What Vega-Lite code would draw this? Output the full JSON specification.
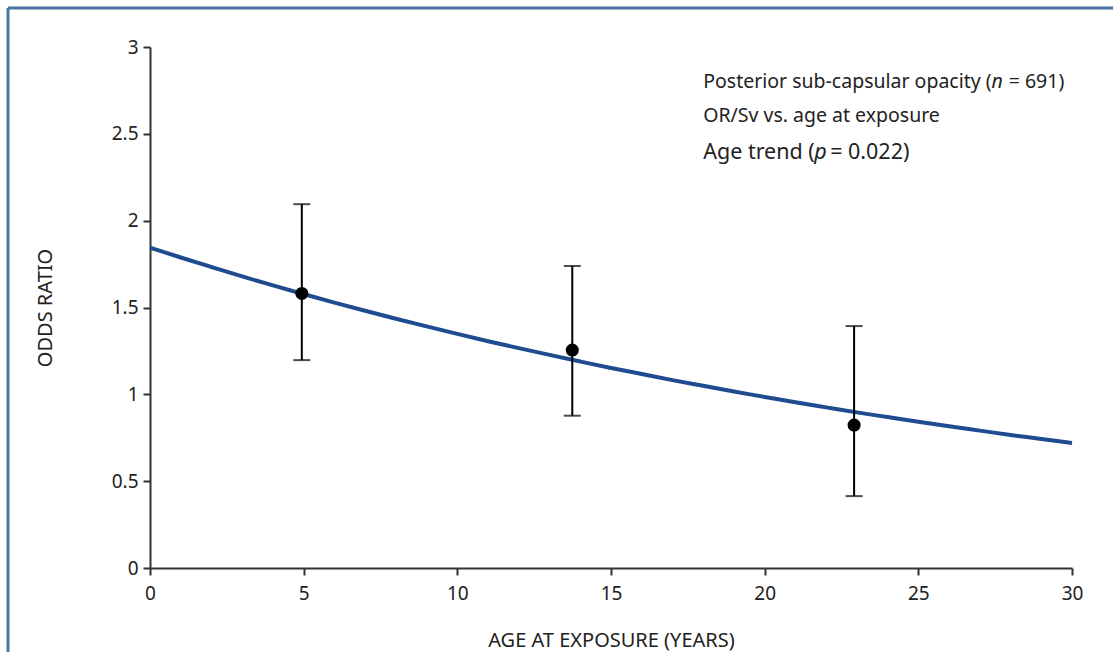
{
  "$schema": "https://vega.github.io/schema/vega-lite/v6.json",
  "autosize": "none",
  "width": 922,
  "height": 521,
  "padding": {"left": 150, "top": 47, "right": 41, "bottom": 84},
  "background": "white",
  "config": {
    "view": {"stroke": null},
    "font": "Noto Sans",
    "axis": {
      "domainColor": "#333333",
      "domainWidth": 2,
      "tickColor": "#333333",
      "tickWidth": 2,
      "tickSize": 7,
      "labelFont": "Noto Sans",
      "labelFontSize": 18,
      "labelColor": "#222222",
      "labelFlush": false,
      "labelOverlap": false,
      "titleFont": "Noto Sans",
      "titleFontSize": 20,
      "titleFontWeight": "normal",
      "titleColor": "#222222",
      "grid": false
    }
  },
  "datasets": {
    "curve": [
      {"age": 0, "or": 1.845}, {"age": 1, "or": 1.788}, {"age": 2, "or": 1.733},
      {"age": 3, "or": 1.679}, {"age": 4, "or": 1.627}, {"age": 5, "or": 1.577},
      {"age": 6, "or": 1.528}, {"age": 7, "or": 1.481}, {"age": 8, "or": 1.435},
      {"age": 9, "or": 1.391}, {"age": 10, "or": 1.348}, {"age": 11, "or": 1.306},
      {"age": 12, "or": 1.266}, {"age": 13, "or": 1.227}, {"age": 14, "or": 1.189},
      {"age": 15, "or": 1.152}, {"age": 16, "or": 1.117}, {"age": 17, "or": 1.082},
      {"age": 18, "or": 1.049}, {"age": 19, "or": 1.016}, {"age": 20, "or": 0.985},
      {"age": 21, "or": 0.954}, {"age": 22, "or": 0.925}, {"age": 23, "or": 0.896},
      {"age": 24, "or": 0.869}, {"age": 25, "or": 0.842}, {"age": 26, "or": 0.816},
      {"age": 27, "or": 0.791}, {"age": 28, "or": 0.766}, {"age": 29, "or": 0.743},
      {"age": 30, "or": 0.720}
    ],
    "points": [
      {"age": 4.94, "or": 1.581, "lo": 1.197, "hi": 2.095},
      {"age": 13.74, "or": 1.255, "lo": 0.877, "hi": 1.739},
      {"age": 22.91, "or": 0.823, "lo": 0.414, "hi": 1.393}
    ],
    "frame": [
      {"x1": -4.62, "x2": -4.62, "y1": -0.6, "y2": 3.224},
      {"x1": -4.62, "x2": 32, "y1": 3.224, "y2": 3.224}
    ],
    "normalText": [
      {"x": 18.0, "y": 2.798, "t": "Posterior sub-capsular opacity ("},
      {"x": 27.94, "y": 2.798, "t": "= 691)"},
      {"x": 18.0, "y": 2.602, "t": "OR/Sv vs. age at exposure"}
    ],
    "italicText": [
      {"x": 27.38, "y": 2.798, "t": "n"}
    ],
    "bigText": [
      {"x": 18.0, "y": 2.389, "t": "Age trend ("},
      {"x": 22.13, "y": 2.389, "t": "= 0.022)"}
    ],
    "bigItalic": [
      {"x": 21.61, "y": 2.389, "t": "p"}
    ]
  },
  "layer": [
    {
      "data": {"name": "frame"},
      "mark": {"type": "rule", "color": "#4a74a4", "strokeWidth": 3, "clip": false},
      "encoding": {
        "x": {"field": "x1", "type": "quantitative", "scale": {"domain": [0, 30]}},
        "x2": {"field": "x2"},
        "y": {"field": "y1", "type": "quantitative", "scale": {"domain": [0, 3]}},
        "y2": {"field": "y2"}
      }
    },
    {
      "data": {"name": "curve"},
      "mark": {"type": "line", "color": "#1f4b91", "strokeWidth": 4, "interpolate": "monotone"},
      "encoding": {
        "x": {
          "field": "age", "type": "quantitative",
          "scale": {"domain": [0, 30], "nice": false, "zero": false},
          "axis": {"values": [0, 5, 10, 15, 20, 25, 30], "title": "AGE AT EXPOSURE (YEARS)", "titlePadding": 27, "labelPadding": 9, "labelFontSize": 19, "format": "~g"}
        },
        "y": {
          "field": "or", "type": "quantitative",
          "scale": {"domain": [0, 3], "nice": false},
          "axis": {"values": [0, 0.5, 1, 1.5, 2, 2.5, 3], "title": "ODDS RATIO", "titlePadding": 56, "labelPadding": 5, "labelFontSize": 19, "format": "~g"}
        }
      }
    },
    {
      "data": {"name": "points"},
      "mark": {"type": "rule", "color": "black", "strokeWidth": 2},
      "encoding": {
        "x": {"field": "age", "type": "quantitative"},
        "y": {"field": "lo", "type": "quantitative"},
        "y2": {"field": "hi"}
      }
    },
    {
      "data": {"name": "points"},
      "mark": {"type": "tick", "color": "black", "orient": "horizontal", "size": 17, "thickness": 2},
      "encoding": {
        "x": {"field": "age", "type": "quantitative"},
        "y": {"field": "lo", "type": "quantitative"}
      }
    },
    {
      "data": {"name": "points"},
      "mark": {"type": "tick", "color": "black", "orient": "horizontal", "size": 17, "thickness": 2},
      "encoding": {
        "x": {"field": "age", "type": "quantitative"},
        "y": {"field": "hi", "type": "quantitative"}
      }
    },
    {
      "data": {"name": "points"},
      "mark": {"type": "point", "filled": true, "color": "black", "opacity": 1, "size": 170},
      "encoding": {
        "x": {"field": "age", "type": "quantitative"},
        "y": {"field": "or", "type": "quantitative"}
      }
    },
    {
      "data": {"name": "normalText"},
      "mark": {"type": "text", "align": "left", "baseline": "middle", "fontSize": 19.5, "color": "#222222", "font": "Noto Sans"},
      "encoding": {
        "x": {"field": "x", "type": "quantitative"},
        "y": {"field": "y", "type": "quantitative"},
        "text": {"field": "t"}
      }
    },
    {
      "data": {"name": "italicText"},
      "mark": {"type": "text", "align": "left", "baseline": "middle", "fontSize": 19.5, "fontStyle": "italic", "color": "#222222", "font": "Noto Sans"},
      "encoding": {
        "x": {"field": "x", "type": "quantitative"},
        "y": {"field": "y", "type": "quantitative"},
        "text": {"field": "t"}
      }
    },
    {
      "data": {"name": "bigText"},
      "mark": {"type": "text", "align": "left", "baseline": "middle", "fontSize": 21.5, "color": "#222222", "font": "Noto Sans"},
      "encoding": {
        "x": {"field": "x", "type": "quantitative"},
        "y": {"field": "y", "type": "quantitative"},
        "text": {"field": "t"}
      }
    },
    {
      "data": {"name": "bigItalic"},
      "mark": {"type": "text", "align": "left", "baseline": "middle", "fontSize": 21.5, "fontStyle": "italic", "color": "#222222", "font": "Noto Sans"},
      "encoding": {
        "x": {"field": "x", "type": "quantitative"},
        "y": {"field": "y", "type": "quantitative"},
        "text": {"field": "t"}
      }
    }
  ]
}
